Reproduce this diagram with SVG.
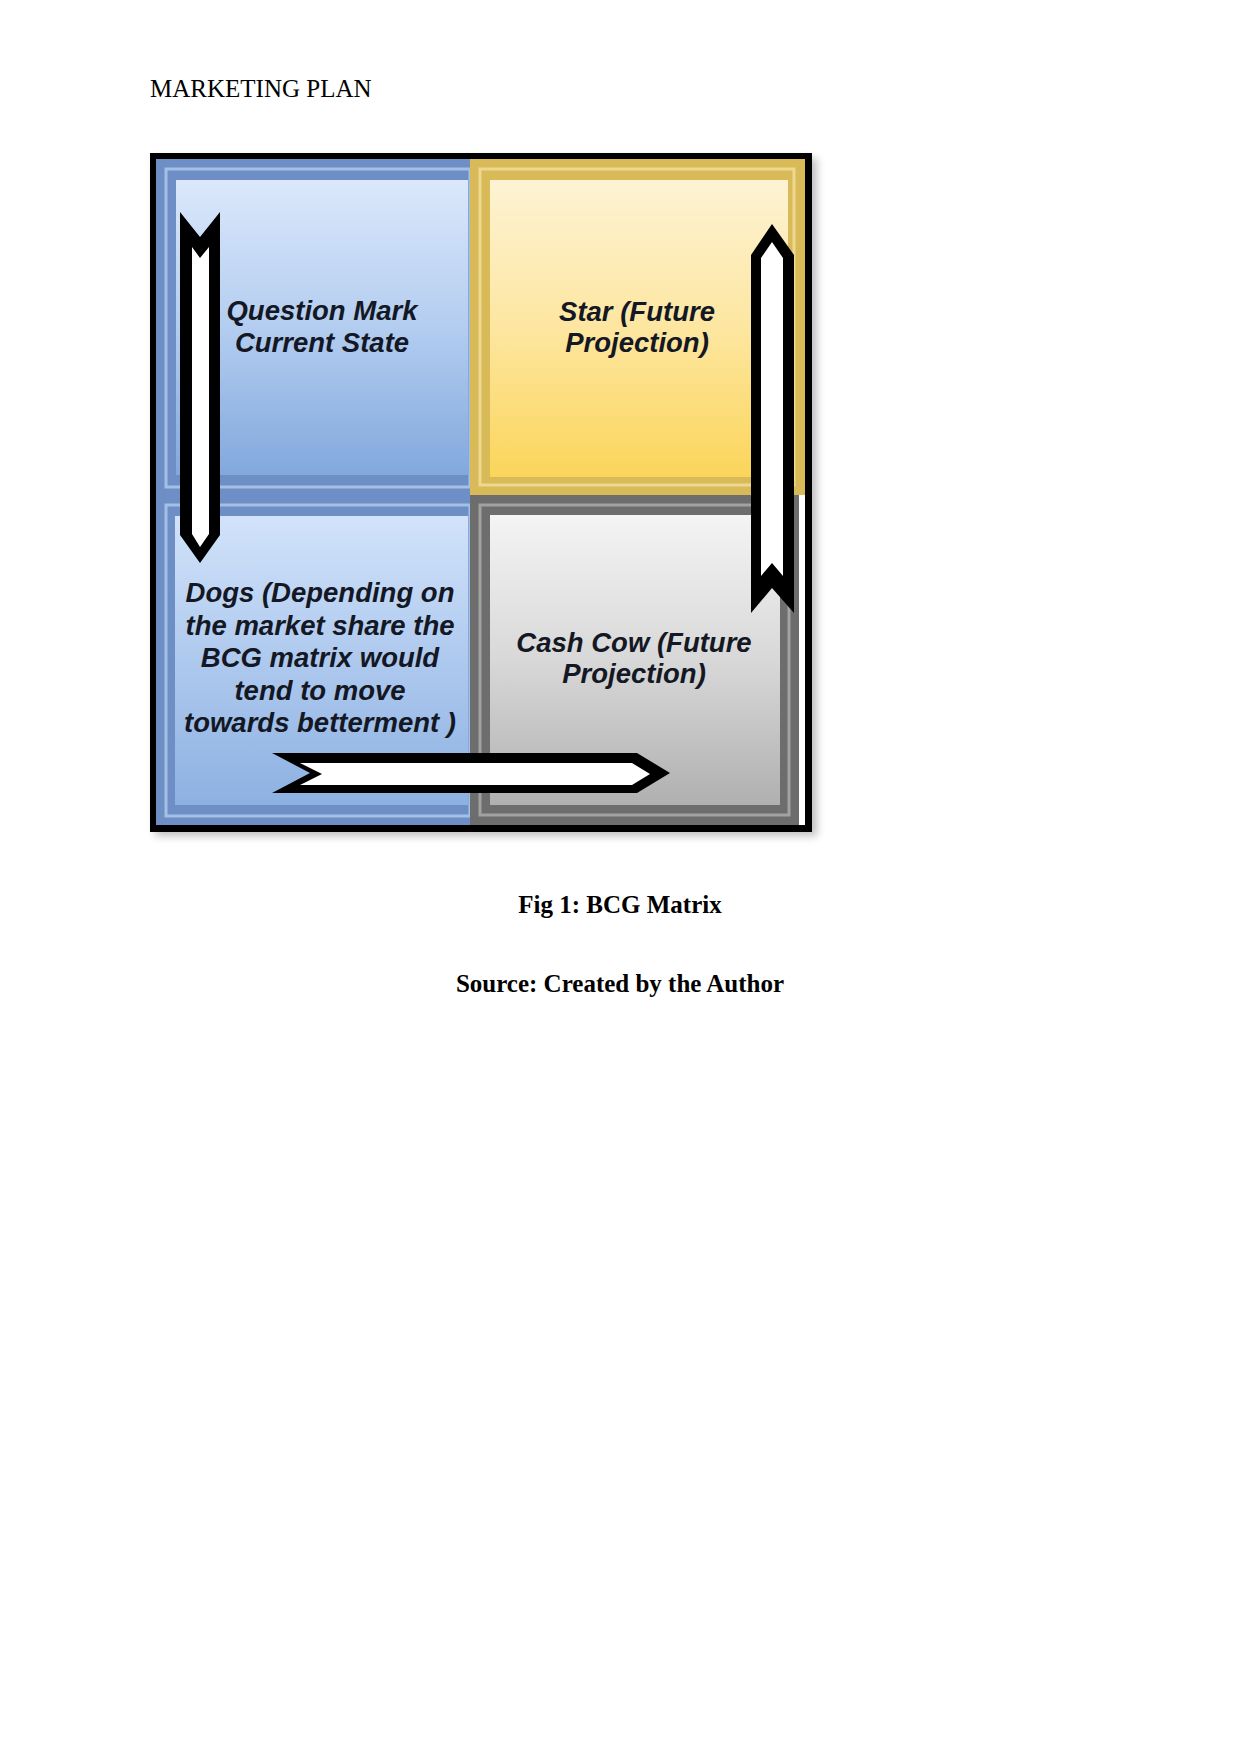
<svg xmlns="http://www.w3.org/2000/svg" width="1241" height="1754" viewBox="0 0 1241 1754">
  <defs>
    <linearGradient id="gBlueTop" x1="0" y1="0" x2="0" y2="1">
      <stop offset="0" stop-color="#dbe8fb"/>
      <stop offset="0.5" stop-color="#b3cdf0"/>
      <stop offset="1" stop-color="#82a8dc"/>
    </linearGradient>
    <linearGradient id="gBlueBot" x1="0" y1="0" x2="0" y2="1">
      <stop offset="0" stop-color="#d2e3fa"/>
      <stop offset="0.5" stop-color="#aec9ee"/>
      <stop offset="1" stop-color="#8db1e2"/>
    </linearGradient>
    <linearGradient id="gYellow" x1="0" y1="0" x2="0" y2="1">
      <stop offset="0" stop-color="#fdf3d4"/>
      <stop offset="0.5" stop-color="#fde6a0"/>
      <stop offset="1" stop-color="#fbd55a"/>
    </linearGradient>
    <linearGradient id="gGray" x1="0" y1="0" x2="0" y2="1">
      <stop offset="0" stop-color="#f4f4f4"/>
      <stop offset="0.5" stop-color="#d8d8d8"/>
      <stop offset="1" stop-color="#b0b0b0"/>
    </linearGradient>
    <filter id="shadow" x="-10%" y="-10%" width="120%" height="120%">
      <feGaussianBlur stdDeviation="4"/>
    </filter>
  </defs>
  <style>
    .hdr { font-family: "Liberation Serif", "Times New Roman", serif; font-size: 25px; fill: #000; }
    .cap { font-family: "Liberation Serif", "Times New Roman", serif; font-size: 25px; font-weight: bold; fill: #000; text-anchor: middle; }
    .lbl { font-family: "Liberation Sans", Arial, sans-serif; font-size: 27.5px; font-weight: bold; font-style: italic; fill: #141824; text-anchor: middle; }
    .arrowOuter { fill: #000; }
    .arrowInner { fill: #fff; }
    .blueFrame { fill: #6d8fc5; }
    .blueLine { fill: none; stroke: #a5c0e6; stroke-width: 3; }
  </style>

  <rect width="1241" height="1754" fill="#ffffff"/>

  <text class="hdr" x="150" y="97">MARKETING PLAN</text>

  <!-- shadow behind the matrix -->
  <rect x="155" y="158" width="662" height="678" fill="#000" opacity="0.25" filter="url(#shadow)"/>
  <rect x="150" y="153" width="662" height="679" fill="#000"/>

  <g id="question-mark">
    <rect class="blueFrame" x="156" y="159" width="314" height="331"/>
    <rect class="blueLine" x="166" y="169" width="304" height="318"/>
    <rect x="176" y="180" width="292" height="295" fill="url(#gBlueTop)"/>
    <text class="lbl" x="322" y="320">Question Mark</text>
    <text class="lbl" x="322" y="352">Current State</text>
  </g>

  <g id="star">
    <rect x="470" y="159" width="335" height="336" fill="#d9ba58"/>
    <rect x="480" y="169" width="314" height="316" fill="none" stroke="#eed88f" stroke-width="3"/>
    <rect x="490" y="180" width="298" height="297" fill="url(#gYellow)"/>
    <text class="lbl" x="637" y="321">Star (Future</text>
    <text class="lbl" x="637" y="352">Projection)</text>
  </g>

  <g id="dogs">
    <rect class="blueFrame" x="156" y="490" width="314" height="335"/>
    <rect class="blueLine" x="166" y="505" width="304" height="311"/>
    <rect x="175" y="516" width="293" height="289" fill="url(#gBlueBot)"/>
    <text class="lbl" x="320" y="602">Dogs (Depending on</text>
    <text class="lbl" x="320" y="635">the market share the</text>
    <text class="lbl" x="320" y="667">BCG matrix would</text>
    <text class="lbl" x="320" y="700">tend to move</text>
    <text class="lbl" x="320" y="732">towards betterment )</text>
  </g>

  <g id="cash-cow">
    <rect x="470" y="495" width="329" height="330" fill="#6d6d6d"/>
    <rect x="480" y="505" width="309" height="310" fill="none" stroke="#a2a2a2" stroke-width="3"/>
    <rect x="490" y="515" width="290" height="290" fill="url(#gGray)"/>
    <rect x="799" y="495" width="6" height="330" fill="#ffffff"/>
    <text class="lbl" x="634" y="652">Cash Cow (Future</text>
    <text class="lbl" x="634" y="683">Projection)</text>
  </g>

  <g id="connectors">
    <!-- down arrow: Question Mark to Dogs -->
    <polygon class="arrowOuter" points="180,212 200,237 220,212 220,535 200,563 180,535"/>
    <polygon class="arrowInner" points="192,247 200,258 209,247 209,534 200,547 192,534"/>
    <!-- right arrow: Dogs to Cash Cow -->
    <polygon class="arrowOuter" points="272,753 637,753 670,773 637,793 272,793 310,773"/>
    <polygon class="arrowInner" points="300,763 632,763 650,774 632,785 300,785 322,774"/>
    <!-- up arrow: Cash Cow to Star -->
    <polygon class="arrowOuter" points="772,224 794,255 794,613 772,588 751,613 751,255"/>
    <polygon class="arrowInner" points="772,242 783,258 783,576 772,563 761,576 761,258"/>
  </g>

  <text class="cap" x="620" y="913">Fig 1: BCG Matrix</text>
  <text class="cap" x="620" y="992">Source: Created by the Author</text>
</svg>
